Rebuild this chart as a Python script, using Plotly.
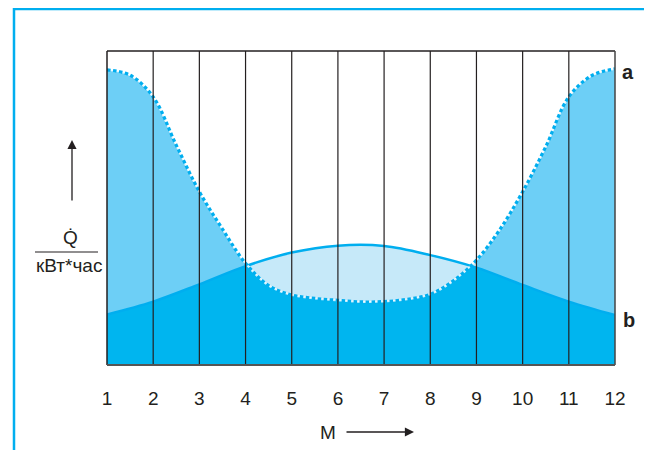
import plotly.graph_objects as go

# ---- data ----
months = [1, 2, 3, 4, 5, 6, 7, 8, 9, 10, 11, 12]
tick_labels = ["1", "2", "3", "4", "5", "6", "7", "8", "9", "10", "11", "12"]
# curve b (solid line)
b_vals = [16.1, 20.2, 25.7, 31.5, 35.8, 38.0, 37.9, 35.0, 31.0, 25.5, 20.2, 15.9]
# curve a (dotted line), read at half-month steps
a_months = [1, 1.5, 2, 2.5, 3, 3.5, 4, 4.5, 5, 5.5, 6, 6.5, 7, 7.5, 8, 8.5, 9,
            9.5, 10, 10.5, 11, 11.5, 12]
a_vals = [94.0, 92.3, 85.4, 70.0, 55.2, 43.3, 32.4, 25.3, 22.3, 21.2, 20.6, 20.1,
          20.2, 20.9, 22.5, 26.8, 33.4, 43.0, 55.2, 69.5, 85.4, 92.2, 94.3]
# span where curve b lies above curve a
over_start, over_end = 4, 9

# ---- styling ----
OFF = 8  # page body margin in the browser
W, H = 652, 450
PLOT_L, PLOT_R, PLOT_T, PLOT_B = 107, 615, 51, 365  # target pixel box in the window
L = PLOT_L - OFF
T = PLOT_T - OFF
PW = PLOT_R - PLOT_L
PH = PLOT_B - PLOT_T
R = W - L - PW
B = H - T - PH
DARK = "#00b5ef"
MED = "#6dcff6"
LIGHT = "#c6e9f9"
LINE = "#00aeef"
INK = "#231f20"
FONT = "Liberation Sans, Arial, sans-serif"


def px(xp):
    return (xp - PLOT_L) / PW


def py(yp):
    return (PLOT_B - yp) / PH


a_seg_x = [m for m in a_months if over_start <= m <= over_end]
a_seg_y = [v for m, v in zip(a_months, a_vals) if over_start <= m <= over_end]
b_seg_x = [m for m in months if over_start <= m <= over_end]
b_seg_y = [v for m, v in zip(months, b_vals) if over_start <= m <= over_end]

fig = go.Figure()
fig.add_trace(go.Scatter(x=a_months, y=a_vals, mode="lines", line=dict(width=0, shape="spline"),
                         fill="tozeroy", fillcolor=MED, hoverinfo="skip"))
fig.add_trace(go.Scatter(x=months, y=b_vals, mode="lines", line=dict(width=0, shape="spline"),
                         fill="tozeroy", fillcolor=DARK, hoverinfo="skip"))
fig.add_trace(go.Scatter(x=a_seg_x, y=a_seg_y, mode="lines",
                         line=dict(width=0, shape="spline"), hoverinfo="skip"))
fig.add_trace(go.Scatter(x=b_seg_x, y=b_seg_y, mode="lines",
                         line=dict(width=0, shape="spline"),
                         fill="tonexty", fillcolor=LIGHT, hoverinfo="skip"))
fig.add_trace(go.Scatter(x=months, y=b_vals, mode="lines",
                         line=dict(width=2.5, color=LINE, shape="spline"), hoverinfo="skip"))
fig.add_trace(go.Scatter(x=a_months, y=a_vals, mode="lines",
                         line=dict(width=2, color="rgba(255,255,255,0.8)", shape="spline"),
                         hoverinfo="skip"))
fig.add_trace(go.Scatter(x=a_months, y=a_vals, mode="lines",
                         line=dict(width=3.2, color=LINE, shape="spline", dash="3.5px,2.5px"),
                         hoverinfo="skip"))

shapes = []
for m in months[1:-1]:
    shapes.append(dict(type="line", xref="x", yref="paper", x0=m, x1=m, y0=0, y1=1,
                       line=dict(color=INK, width=1.2), layer="above"))
shapes.append(dict(type="line", xref="paper", yref="paper", x0=0, x1=1, y0=1, y1=1,
                   line=dict(color=INK, width=1.5), layer="above"))
shapes.append(dict(type="line", xref="paper", yref="paper", x0=0, x1=0, y0=0, y1=1,
                   line=dict(color=INK, width=1.5), layer="above"))
shapes.append(dict(type="line", xref="paper", yref="paper", x0=1, x1=1, y0=0, y1=1,
                   line=dict(color="#444", width=1.5), layer="above"))
shapes.append(dict(type="line", xref="paper", yref="paper", x0=0, x1=1, y0=0, y1=0,
                   line=dict(color="#555", width=2.2), layer="above"))
shapes.append(dict(type="rect", xref="paper", yref="paper",
                   x0=px(14), x1=px(680), y0=py(480), y1=py(9),
                   line=dict(color="#00aeef", width=2.5), fillcolor="rgba(0,0,0,0)",
                   layer="above"))
shapes.append(dict(type="line", xref="paper", yref="paper", x0=px(35), x1=px(98),
                   y0=py(252), y1=py(252), line=dict(color=INK, width=1.2)))


def label(text, xp, yp, size=19):
    return dict(text=text, x=px(xp), y=py(yp), xref="paper", yref="paper", showarrow=False,
                xanchor="center", yanchor="middle",
                font=dict(size=size, color=INK, family=FONT))


annotations = [
    label("Q\u0307", 70, 237),
    label("кВт*час", 69, 265),
    dict(text="", x=px(72), y=py(140), xref="paper", yref="paper", showarrow=True,
         ax=0, ay=62, axref="pixel", ayref="pixel", arrowhead=2, arrowsize=1.4,
         arrowwidth=1.3, arrowcolor=INK, standoff=0),
    label("M", 328, 432),
    dict(text="", x=px(414), y=py(432), xref="paper", yref="paper", showarrow=True,
         ax=-69, ay=0, axref="pixel", ayref="pixel", arrowhead=2, arrowsize=1.4,
         arrowwidth=1.3, arrowcolor=INK, standoff=0),
    label("<b>a</b>", 628, 72, 20),
    label("<b>b</b>", 629, 320, 20),
]

fig.update_layout(
    width=W, height=H,
    margin=dict(l=L, r=R, t=T, b=B, pad=0),
    paper_bgcolor="white", plot_bgcolor="white",
    showlegend=False,
    shapes=shapes, annotations=annotations,
    xaxis=dict(range=[1, 12], tickvals=months, ticktext=tick_labels, showgrid=False,
               zeroline=False, showline=False, ticks="", ticklabelstandoff=20,
               tickfont=dict(size=19, color=INK, family=FONT), fixedrange=True),
    yaxis=dict(range=[0, 100], showticklabels=False, showgrid=False, zeroline=False,
               showline=False, ticks="", fixedrange=True),
)

fig.write_html("out.html")
